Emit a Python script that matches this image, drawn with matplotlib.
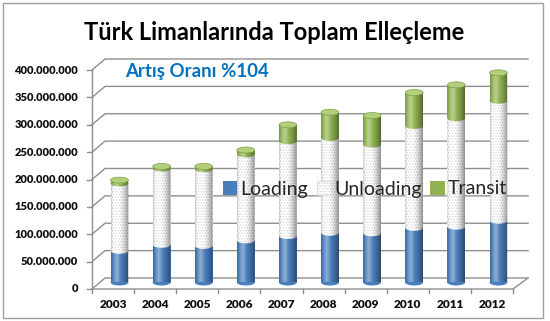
import numpy as np
import matplotlib
matplotlib.use("Agg")
import matplotlib.pyplot as plt
from matplotlib.patches import Ellipse, Rectangle, Patch
from matplotlib.path import Path
from matplotlib.patches import PathPatch

# ---------------- data (tons) ----------------
years = ["2003", "2004", "2005", "2006", "2007", "2008", "2009", "2010", "2011", "2012"]
loading = [58e6, 69e6, 67e6, 77e6, 85e6, 91e6, 90e6, 100e6, 102e6, 113e6]
unloading = [123e6, 139e6, 140e6, 157e6, 173e6, 173e6, 162e6, 186e6, 198e6, 219e6]
transit = [6e6, 4e6, 5e6, 8e6, 30e6, 47e6, 53e6, 61e6, 61e6, 51e6]
series_names = ["Loading", "Unloading", "Transit"]
yticks = [0, 50e6, 100e6, 150e6, 200e6, 250e6, 300e6, 350e6, 400e6]
ytick_labels = ["0", "50.000.000", "100.000.000", "150.000.000", "200.000.000",
                "250.000.000", "300.000.000", "350.000.000", "400.000.000"]
title = "Türk Limanlarında Toplam Elleçleme"
note = "Artış Oranı %104"

W, H = 550, 321
fig = plt.figure(figsize=(W / 100, H / 100), dpi=100)
fig.patch.set_facecolor("white")
plt.rcParams["hatch.linewidth"] = 0.7

# geometry (pixels, from top-left)
bar_c0, step = 119.5, 42.1
zero_py, ppm = 282.5, 0.5475 / 1e6     # px per unit value
ax_left = bar_c0 - 0.5 * step
ax = fig.add_axes([ax_left / W, (H - zero_py) / H, 10 * step / W, 400e6 * ppm / H])
ax.set_axis_off()

def dx(px):  # pixel x -> data x
    return (px - bar_c0) / step

def dyoff(pix):  # pixel offset (downwards positive) -> value offset
    return -pix / ppm

x = np.arange(len(years))
front_y = dyoff(6.5)     # front plane offset
back_y = dyoff(-4.5)     # back wall offset
xf, xb, xr = dx(92), dx(105), dx(528)
xfr = dx(513)

grid_col = "#8f8f8f"
for v in yticks:
    ax.plot([xf, xb, xr], [v + front_y, v + back_y, v + back_y], color=grid_col,
            lw=1.0, clip_on=False, zorder=1)
    ax.plot([dx(87), xf], [v + front_y] * 2, color=grid_col, lw=1.0, clip_on=False, zorder=1)
ax.plot([xf, xf], [front_y, 400e6 + front_y], color=grid_col, lw=1.0, clip_on=False, zorder=1)
ax.plot([xf, xfr, xr], [front_y, front_y, back_y], color=grid_col, lw=1.0, clip_on=False, zorder=1)
for k in range(len(years) + 1):
    xt = xf + k * (xfr - xf) / len(years)
    ax.plot([xt, xt], [front_y, front_y + dyoff(4)], color=grid_col, lw=1.0, clip_on=False, zorder=1)

for v, lab in zip(yticks, ytick_labels):
    ax.text(dx(78), v + front_y, lab, ha="right", va="center", fontsize=8.0,
            fontweight="heavy", family="Lato", color="#111111", clip_on=False)
for i, yr in enumerate(years):
    xc = xf + (i + 0.5) * (xfr - xf) / len(years)
    ax.text(xc, dyoff(304 - zero_py), yr, ha="center", va="center", fontsize=8.6,
            fontweight="heavy", family="Lato", color="#111111", clip_on=False)

# ---------------- cylinders ----------------
bw = 17.8 / step
eh = 6.0 / ppm
colors = ["#4a7ebb", "#ffffff", "#8fb350"]
hatch_cols = [colors[0], "#d2d2d2", colors[2]]
caps = "#b2cf7c"
hatches = [None, "......", None]

data = [loading, unloading, transit]
gx = np.linspace(0, 1, 64)
hl = 0.35 * np.exp(-((gx - 0.32) / 0.16) ** 2)
dk = 0.42 * np.clip((gx - 0.45) / 0.55, 0, 1) ** 1.6 + 0.18 * np.clip((0.12 - gx) / 0.12, 0, 1)
white_img = np.zeros((1, 64, 4)); white_img[..., :3] = 1.0; white_img[0, :, 3] = hl
black_img = np.zeros((1, 64, 4)); black_img[0, :, 3] = dk

for i in range(len(years)):
    bottom = 0.0
    for s in range(3):
        val = data[s][i]
        z = 3 + s * 0.1
        ax.add_patch(Ellipse((x[i], bottom), bw, eh, facecolor=colors[s], edgecolor=hatch_cols[s],
                             linewidth=0, hatch=hatches[s], zorder=z, clip_on=False))
        ax.bar(x[i], val, bottom=bottom, width=bw, color=colors[s], hatch=hatches[s],
               edgecolor=hatch_cols[s], linewidth=0, zorder=z + 0.01)
        bottom += val
    total = bottom
    th = np.linspace(np.pi, 2 * np.pi, 40)
    verts = [(x[i] - bw / 2, total)]
    verts += [(x[i] + bw / 2 * np.cos(t), eh / 2 * np.sin(t)) for t in th]
    verts += [(x[i] + bw / 2, total), (x[i] - bw / 2, total)]
    clip = PathPatch(Path(verts, closed=True), transform=ax.transData, facecolor="none",
                     edgecolor="none")
    ax.add_patch(clip)
    for img in (white_img, black_img):
        im = ax.imshow(img, extent=[x[i] - bw / 2, x[i] + bw / 2, -eh / 2, total],
                       aspect="auto", zorder=3.5, interpolation="bilinear")
        im.set_clip_path(clip)
    ax.add_patch(Ellipse((x[i], total), bw, eh, facecolor=caps, edgecolor="#7f9f45",
                         linewidth=0.5, zorder=4, clip_on=False))

ax.set_xlim(-0.5, len(years) - 0.5)
ax.set_ylim(0, 400e6)

handles = [Patch(facecolor=colors[0], edgecolor="none"),
           Patch(facecolor="white", edgecolor="#d0d0d0", linewidth=0.5, hatch="......"),
           Patch(facecolor=colors[2], edgecolor="none")]
leg = fig.legend(handles, series_names, loc="center", bbox_to_anchor=(365 / W, (H - 189) / H),
                 ncol=3, frameon=False, prop={"family": "Lato", "size": 14},
                 handlelength=0.75, handleheight=0.75, handletextpad=0.15,
                 columnspacing=0.45, borderpad=0)
for t in leg.get_texts():
    t.set_color("#262626")
leg.set_zorder(10)

fig.text(274 / W, (H - 33) / H, title, ha="center", va="center", fontsize=17,
         fontweight="bold", family="Lato", color="#000000")
fig.text(125 / W, (H - 72) / H, note, ha="left", va="center", fontsize=13.4,
         fontweight="bold", family="Lato", color="#0070c0")

fig.patches.append(Rectangle((3 / W, 3 / H), 540 / W, 315 / H, transform=fig.transFigure,
                             fill=False, edgecolor="#a0a0a0", linewidth=1.0))

fig.savefig("out.png", dpi=100)
